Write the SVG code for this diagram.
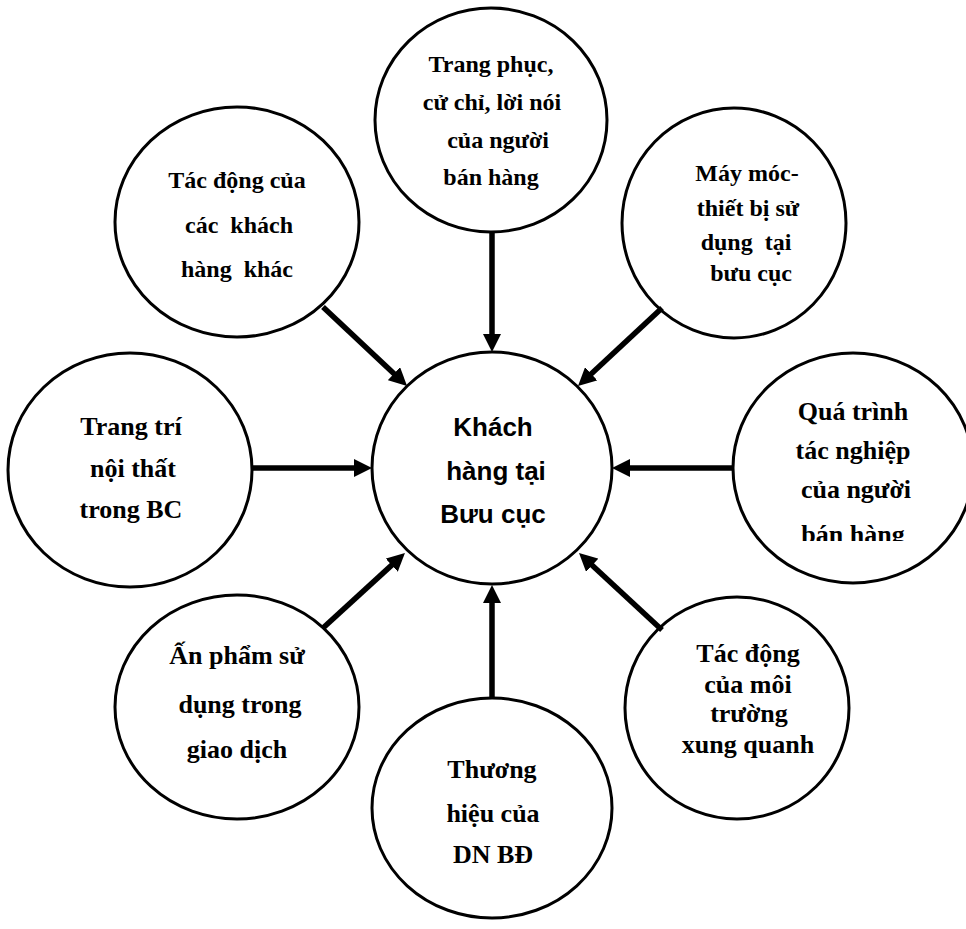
<svg xmlns="http://www.w3.org/2000/svg" width="966" height="929" viewBox="0 0 966 929">
  <style>
    .node { fill: #fff; stroke: #000; stroke-width: 3; }
    .lbl { font-family: "Liberation Serif", "Times New Roman", serif; font-weight: bold; font-size: 24px; fill: #000; text-anchor: middle; white-space: pre; }
    .big { font-size: 26px; }
    .hub { font-family: "Liberation Sans", Arial, sans-serif; font-weight: bold; font-size: 26px; fill: #000; text-anchor: middle; }
    .conn { stroke: #000; stroke-width: 5.5; fill: none; marker-end: url(#head); }
  </style>
  <defs>
    <marker id="head" markerUnits="userSpaceOnUse" markerWidth="18" markerHeight="18" refX="6" refY="9" orient="auto">
      <path d="M0,0 L18,9 L0,18 z" fill="#000"/>
    </marker>
    <clipPath id="clip-qt">
      <rect x="720" y="330" width="246" height="211"/>
    </clipPath>
  </defs>

  <rect width="966" height="929" fill="#fff"/>

  <!-- central node -->
  <g id="khach-hang">
    <ellipse class="node" cx="492" cy="468" rx="120" ry="116"/>
    <text class="hub" x="493" y="436">Khách</text>
    <text class="hub" x="496" y="480">hàng tại</text>
    <text class="hub" x="493" y="523">Bưu cục</text>
  </g>

  <g id="trang-phuc">
    <ellipse class="node" cx="491" cy="120" rx="116" ry="112"/>
    <text class="lbl" x="491" y="72">Trang phục,</text>
    <text class="lbl" x="492" y="110">cử chỉ, lời nói</text>
    <text class="lbl" x="498" y="148">của người</text>
    <text class="lbl" x="491" y="185">bán hàng</text>
  </g>

  <g id="may-moc">
    <ellipse class="node" cx="734" cy="223" rx="112" ry="115"/>
    <text class="lbl" x="747" y="181">Máy móc-</text>
    <text class="lbl" x="748" y="216">thiết bị sử</text>
    <text class="lbl" x="746" y="250">dụng  tại</text>
    <text class="lbl" x="751" y="281">bưu cục</text>
  </g>

  <g id="khach-khac">
    <ellipse class="node" cx="237" cy="222" rx="122" ry="115"/>
    <text class="lbl" x="237" y="188">Tác động của</text>
    <text class="lbl" x="239" y="233">các  khách</text>
    <text class="lbl" x="237" y="277">hàng  khác</text>
  </g>

  <g id="trang-tri">
    <ellipse class="node" cx="130" cy="470" rx="122" ry="117"/>
    <text class="lbl big" x="131" y="435">Trang trí</text>
    <text class="lbl big" x="133" y="477">nội thất</text>
    <text class="lbl big" x="131" y="518">trong BC</text>
  </g>

  <g id="qua-trinh">
    <ellipse class="node" cx="853" cy="468" rx="120" ry="115"/>
    <g clip-path="url(#clip-qt)">
      <text class="lbl big" x="853" y="420">Quá trình</text>
      <text class="lbl big" x="853" y="459">tác nghiệp</text>
      <text class="lbl big" x="856" y="498">của người</text>
      <text class="lbl big" x="853" y="543">bán hàng</text>
    </g>
  </g>

  <g id="an-pham">
    <ellipse class="node" cx="237" cy="707" rx="122" ry="112"/>
    <text class="lbl big" x="237" y="664">Ấn phẩm sử</text>
    <text class="lbl big" x="240" y="713">dụng trong</text>
    <text class="lbl big" x="237" y="758">giao dịch</text>
  </g>

  <g id="moi-truong">
    <ellipse class="node" cx="737" cy="708" rx="112" ry="111"/>
    <text class="lbl big" x="748" y="662">Tác động</text>
    <text class="lbl big" x="748" y="693">của môi</text>
    <text class="lbl big" x="749" y="722">trường</text>
    <text class="lbl big" x="748" y="753">xung quanh</text>
  </g>

  <g id="thuong-hieu">
    <ellipse class="node" cx="492" cy="808" rx="120" ry="110"/>
    <text class="lbl big" x="492" y="778">Thương</text>
    <text class="lbl big" x="493" y="822">hiệu của</text>
    <text class="lbl big" x="493" y="863">DN BĐ</text>
  </g>

  <!-- arrows pointing into the central node -->
  <g id="connectors">
    <line class="conn" x1="492" y1="233" x2="492" y2="340"/>
    <line class="conn" x1="662" y1="308" x2="586.8" y2="377.9"/>
    <line class="conn" x1="323" y1="307" x2="398.3" y2="377.8"/>
    <line class="conn" x1="252" y1="468" x2="360" y2="468"/>
    <line class="conn" x1="733" y1="468" x2="624" y2="468"/>
    <line class="conn" x1="323" y1="628" x2="396.1" y2="561.1"/>
    <line class="conn" x1="662" y1="630" x2="587.8" y2="561.2"/>
    <line class="conn" x1="492" y1="698" x2="492" y2="597"/>
  </g>
</svg>
